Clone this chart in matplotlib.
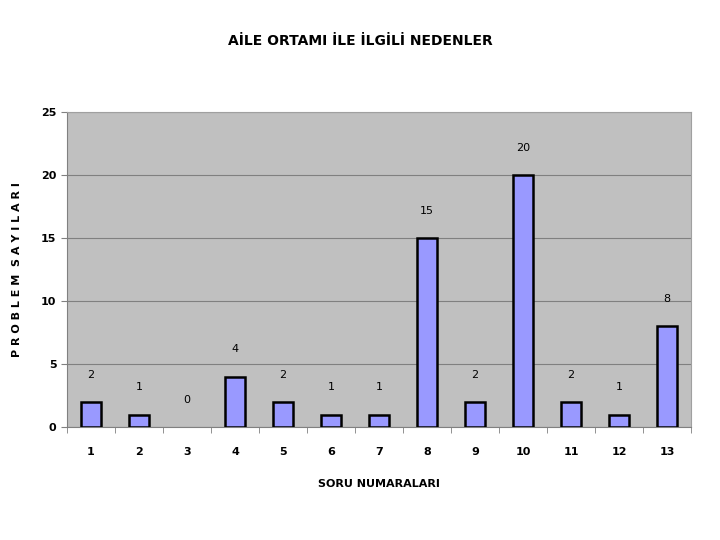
import matplotlib
matplotlib.use("Agg")
import matplotlib.pyplot as plt
import numpy as np
from matplotlib import font_manager

questions = ["1", "2", "3", "4", "5", "6", "7", "8", "9", "10", "11", "12", "13"]
counts = [2, 1, 0, 4, 2, 1, 1, 15, 2, 20, 2, 1, 8]

names = {f.name for f in font_manager.fontManager.ttflist}
narrow = "Liberation Sans Narrow" if "Liberation Sans Narrow" in names else "DejaVu Sans"
plt.rcParams["font.family"] = [narrow, "DejaVu Sans"]

fig = plt.figure(figsize=(7.2, 5.4), dpi=100)
ax = fig.add_axes([0.093, 0.209, 0.867, 0.584])
ax.set_facecolor("#C0C0C0")

x = np.arange(len(questions))
edges = ["black" if v > 0 else "none" for v in counts]
ax.bar(x, counts, width=0.42, color="#9999FF", edgecolor=edges, linewidth=1.8, zorder=3)

for xi, v in zip(x, counts):
    ax.annotate(str(v), (xi, v), xytext=(0, 16), textcoords="offset points",
                ha="center", va="bottom", fontsize=8)

ax.set_xlim(-0.5, len(questions) - 0.5)
ax.set_ylim(0, 25)
ax.set_yticks(range(0, 26, 5))
ax.yaxis.grid(True, color="#808080", linewidth=0.8, zorder=0)

ax.set_xticks(x)
ax.set_xticklabels(questions, fontsize=8, fontweight="bold")
ax.set_xticks(np.arange(-0.5, len(questions), 1), minor=True)
ax.tick_params(axis="x", which="major", length=0, pad=14)
ax.tick_params(axis="x", which="minor", length=4, color="#808080")
ax.tick_params(axis="y", length=4, color="#808080", labelsize=8)
for lbl in ax.get_yticklabels():
    lbl.set_fontweight("bold")

for side in ["top", "right"]:
    ax.spines[side].set_color("#A0A0A0")
for side in ["left", "bottom"]:
    ax.spines[side].set_color("#808080")

ax.set_xlabel("SORU NUMARALARI", fontsize=8, fontweight="bold", labelpad=16)
ax.set_ylabel("P R O B L E M  S A Y I L A R I", fontsize=8, fontweight="bold", labelpad=14)
fig.text(0.5, 0.924, "AİLE ORTAMI İLE İLGİLİ NEDENLER", ha="center", va="center",
         fontsize=10, fontweight="bold")

fig.savefig("out.png", dpi=100)
